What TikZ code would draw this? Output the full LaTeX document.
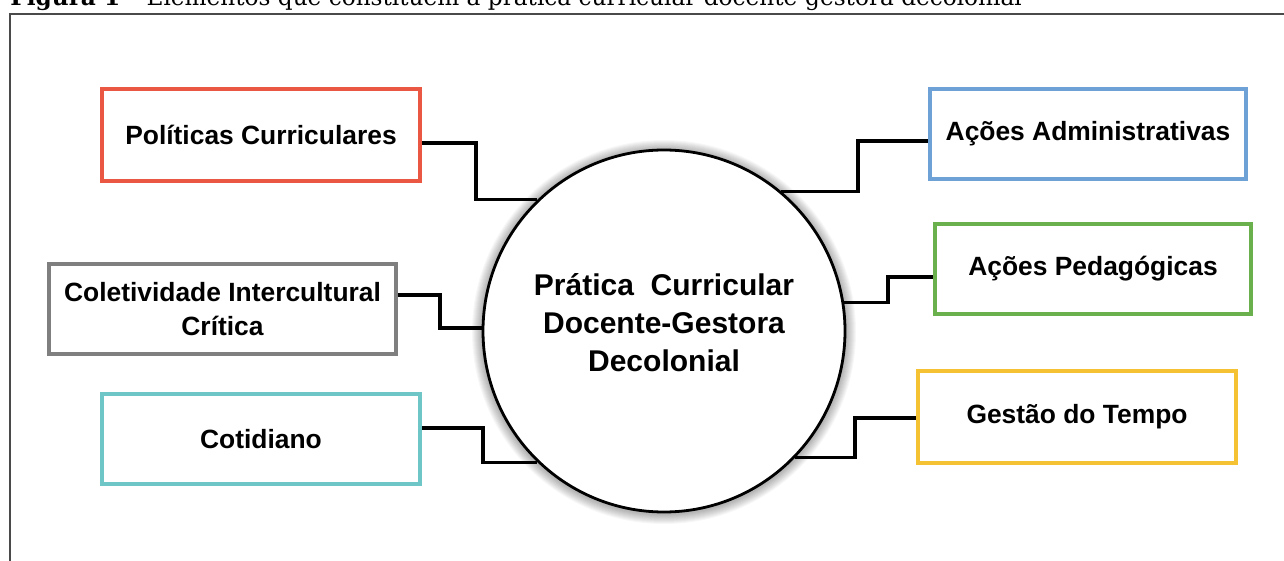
\documentclass[tikz,border=0pt]{standalone}
\usepackage{fontspec}
\setmainfont{Liberation Sans}
\newfontfamily\capfont{DejaVu Serif}
\definecolor{cred}{HTML}{EA5843}
\definecolor{cgray}{HTML}{7F7F7F}
\definecolor{cteal}{HTML}{6FC6C6}
\definecolor{cblue}{HTML}{6EA1D6}
\definecolor{cgreen}{HTML}{6AB04C}
\definecolor{cyellow}{HTML}{F4C233}
\definecolor{cframe}{HTML}{4A4A4A}
\begin{document}
\begin{tikzpicture}[x=0.5pt,y=-0.5pt,
  itembox/.style={draw, line width=2pt, fill=white, minimum width=159pt, minimum height=46pt,
    inner sep=0pt, align=center, font=\fontsize{13.2}{16.7}\selectfont\bfseries},
  link/.style={line width=1.7pt, black, line join=miter},
  hub/.style={circle, draw=black, line width=1.4pt, fill=white, minimum size=181pt, inner sep=0pt},
  hubtext/.style={align=center, inner sep=0pt, font=\fontsize{15}{19}\selectfont\bfseries}]
\useasboundingbox (0,0) rectangle (1284,561);
\clip (0,0) rectangle (1284,561);
\fill[white] (0,0) rectangle (1284,561);
% caption (clipped at top, as in the source)
\node[anchor=base west, inner sep=0pt, font=\capfont\fontsize{11.6}{14}\selectfont] (cap) at (10,6)
  {\textbf{Figura 1} – Elementos que constituem a prática curricular docente-gestora decolonial};
% outer frame
\draw[line width=1.4pt, cframe] (10,620) -- (10,14) -- (1320,14);
% soft shadow around the hub
\foreach \i in {1,...,10} \fill[black, opacity=0.03] (664,332) circle[radius=182+\i];
\node[hub] (circ) at (664,331) {};
\node[hubtext] (ctext) at (664,323) {Prática\ \ Curricular\\Docente-Gestora\\Decolonial};
% boxes
\node[itembox, draw=cred] (pol) at (261,135) {Políticas Curriculares};
\node[itembox, draw=cgray, minimum width=173.5pt, minimum height=45pt] (col) at (222.5,309) {Coletividade Intercultural\\Crítica};
\node[itembox, draw=cteal, minimum height=45pt] (cot) at (261,439) {Cotidiano};
\node[itembox, draw=cblue, minimum width=158pt, minimum height=45pt] (adm) at (1088,134) {Ações Administrativas};
\node[itembox, draw=cgreen, minimum width=158pt, minimum height=45pt] (ped) at (1093,269) {Ações Pedagógicas};
\node[itembox, draw=cyellow] (ges) at (1077,417) {Gestão do Tempo};
% connectors
\draw[link] (pol.east|-{(0,143)}) -- (476,143) |- (circ.134);
\draw[link] (col.east|-{(0,295)}) -- (440,295) |- (circ.179);
\draw[link] (cot.east|-{(0,428)}) -- (483,428) |- (circ.226);
\draw[link] (adm.west|-{(0,141)}) -- (858,141) |- (circ.50);
\draw[link] (ped.west|-{(0,277)}) -- (888,277) |- (circ.9);
\draw[link] (ges.west|-{(0,418)}) -- (855,418) |- (circ.316);
\end{tikzpicture}
\end{document}
